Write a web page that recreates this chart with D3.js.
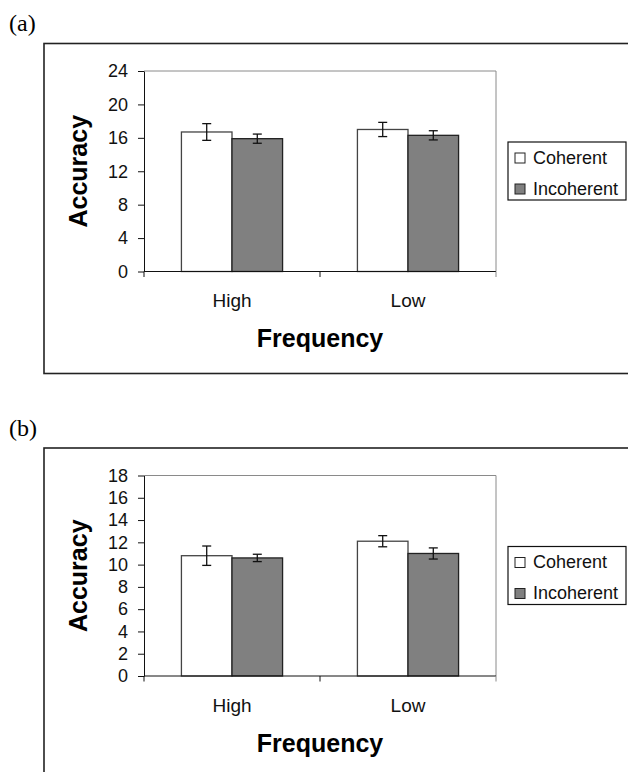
<!DOCTYPE html>
<html>
<head>
<meta charset="utf-8">
<script src="https://cdn.jsdelivr.net/npm/d3@7/dist/d3.min.js"></script>
<style>
  body { margin: 0; background: #fff; }
  svg { display: block; }
</style>
</head>
<body>
<div id="chart"></div>
<script>
const categories = ["High", "Low"];
const series = ["Coherent", "Incoherent"];

// panel (a)
const coherentA = [16.7, 17.0];
const incoherentA = [15.9, 16.3];
const coherentErrA = [1.0, 0.85];
const incoherentErrA = [0.55, 0.55];
const ticksA = [0, 4, 8, 12, 16, 20, 24];

// panel (b)
const coherentB = [10.8, 12.1];
const incoherentB = [10.6, 11.0];
const coherentErrB = [0.87, 0.5];
const incoherentErrB = [0.33, 0.5];
const ticksB = [0, 2, 4, 6, 8, 10, 12, 14, 16, 18];

const width = 628;
const height = 772;
const sans = "'Liberation Sans', Arial, sans-serif";
const serif = "'Liberation Serif', 'Times New Roman', serif";
const fills = { Coherent: "#ffffff", Incoherent: "#808080" };

const svg = d3.select("#chart").append("svg")
  .attr("width", width)
  .attr("height", height);

svg.append("rect").attr("width", width).attr("height", height).attr("fill", "#fff");

function drawPanel(offsetY, label, coherent, incoherent, coherentErr, incoherentErr, ticks) {
  const g = svg.append("g").attr("transform", `translate(0,${offsetY})`);
  const plot = { left: 144, right: 496, top: 71, bottom: 271.5 };

  // panel letter
  g.append("text")
    .attr("x", 9).attr("y", 31)
    .style("font-family", serif).style("font-size", "24px")
    .text(label);

  // outer frame (right edge runs off the page)
  g.append("rect")
    .attr("x", 44).attr("y", 43.5)
    .attr("width", 600).attr("height", 330)
    .attr("fill", "none").attr("stroke", "#222").attr("stroke-width", 1.6);

  const x0 = d3.scaleBand().domain(categories).range([plot.left, plot.right]);
  const x1 = d3.scaleBand().domain(series).range([0, x0.bandwidth()])
    .paddingInner(0).paddingOuter(0.74);
  const y = d3.scaleLinear().domain([0, d3.max(ticks)]).range([plot.bottom, plot.top]);

  // grey plot border
  g.append("path")
    .attr("d", `M${plot.left},${plot.top}H${plot.right}V${plot.bottom}`)
    .attr("fill", "none").attr("stroke", "#8a8a8a").attr("stroke-width", 1);

  // y axis
  const yAxis = g.append("g")
    .attr("transform", `translate(${plot.left},0)`)
    .call(d3.axisLeft(y).tickValues(ticks).tickSize(6).tickSizeOuter(0).tickPadding(10));
  yAxis.selectAll("line, path").attr("stroke", "#111");
  yAxis.selectAll("text")
    .style("font-family", sans).style("font-size", "18px").attr("fill", "#111");

  // x axis labels
  const xAxis = g.append("g")
    .attr("transform", `translate(0,${plot.bottom})`)
    .call(d3.axisBottom(x0).tickSize(0).tickPadding(22.5));
  xAxis.select(".domain").remove();
  xAxis.selectAll("text")
    .style("font-family", sans).style("font-size", "19px").attr("fill", "#111");

  // bars
  const rows = categories.map((c, i) => ({
    category: c,
    values: [
      { key: "Coherent", value: coherent[i], err: coherentErr[i] },
      { key: "Incoherent", value: incoherent[i], err: incoherentErr[i] }
    ]
  }));

  const groups = g.selectAll(".group")
    .data(rows)
    .join("g")
    .attr("class", "group")
    .attr("transform", d => `translate(${x0(d.category)},0)`);

  groups.selectAll("rect")
    .data(d => d.values)
    .join("rect")
    .attr("x", d => x1(d.key))
    .attr("y", d => y(d.value))
    .attr("width", x1.bandwidth())
    .attr("height", d => y(0) - y(d.value))
    .attr("fill", d => fills[d.key])
    .attr("stroke", d => d.key === "Coherent" ? "#444" : "#222")
    .attr("stroke-width", 1.3);

  // error bars
  const err = groups.selectAll(".err")
    .data(d => d.values)
    .join("g")
    .attr("class", "err")
    .attr("transform", d => `translate(${x1(d.key) + x1.bandwidth() / 2},0)`)
    .attr("stroke", "#111").attr("stroke-width", 1.3);
  err.append("line")
    .attr("y1", d => y(d.value + d.err)).attr("y2", d => y(d.value - d.err));
  err.append("line")
    .attr("x1", -4.5).attr("x2", 4.5)
    .attr("y1", d => y(d.value + d.err)).attr("y2", d => y(d.value + d.err));
  err.append("line")
    .attr("x1", -4.5).attr("x2", 4.5)
    .attr("y1", d => y(d.value - d.err)).attr("y2", d => y(d.value - d.err));

  // x axis line and category boundary ticks
  g.append("line")
    .attr("x1", plot.left).attr("x2", plot.right)
    .attr("y1", y(0)).attr("y2", y(0))
    .attr("stroke", "#111").attr("stroke-width", 1);
  const bounds = [...categories.map(c => x0(c)), plot.right];
  g.selectAll(".xtick")
    .data(bounds)
    .join("line")
    .attr("class", "xtick")
    .attr("x1", d => d).attr("x2", d => d)
    .attr("y1", y(0)).attr("y2", y(0) + 5.5)
    .attr("stroke", (d, i) => i === bounds.length - 1 ? "#8a8a8a" : "#111");

  // axis titles
  g.append("text")
    .attr("x", (plot.left + plot.right) / 2).attr("y", 347)
    .attr("text-anchor", "middle")
    .style("font-family", sans).style("font-size", "25px").style("font-weight", "bold")
    .text("Frequency");

  g.append("text")
    .attr("transform", `translate(87,${(plot.top + plot.bottom) / 2}) rotate(-90)`)
    .attr("text-anchor", "middle")
    .style("font-family", sans).style("font-size", "25px").style("font-weight", "bold")
    .text("Accuracy");

  // legend
  const legend = g.append("g").attr("transform", "translate(508,142)");
  legend.append("rect")
    .attr("width", 118).attr("height", 58)
    .attr("fill", "#fff").attr("stroke", "#111").attr("stroke-width", 1.2);
  const items = legend.selectAll(".item")
    .data(series)
    .join("g")
    .attr("class", "item")
    .attr("transform", (d, i) => `translate(7,${11 + i * 31})`);
  items.append("rect")
    .attr("width", 10).attr("height", 10)
    .attr("fill", d => fills[d]).attr("stroke", "#222").attr("stroke-width", 1);
  items.append("text")
    .attr("x", 18).attr("y", 10.5)
    .style("font-family", sans).style("font-size", "18px").attr("fill", "#111")
    .text(d => d);
}

drawPanel(0, "(a)", coherentA, incoherentA, coherentErrA, incoherentErrA, ticksA);
drawPanel(404.5, "(b)", coherentB, incoherentB, coherentErrB, incoherentErrB, ticksB);
</script>
</body>
</html>
